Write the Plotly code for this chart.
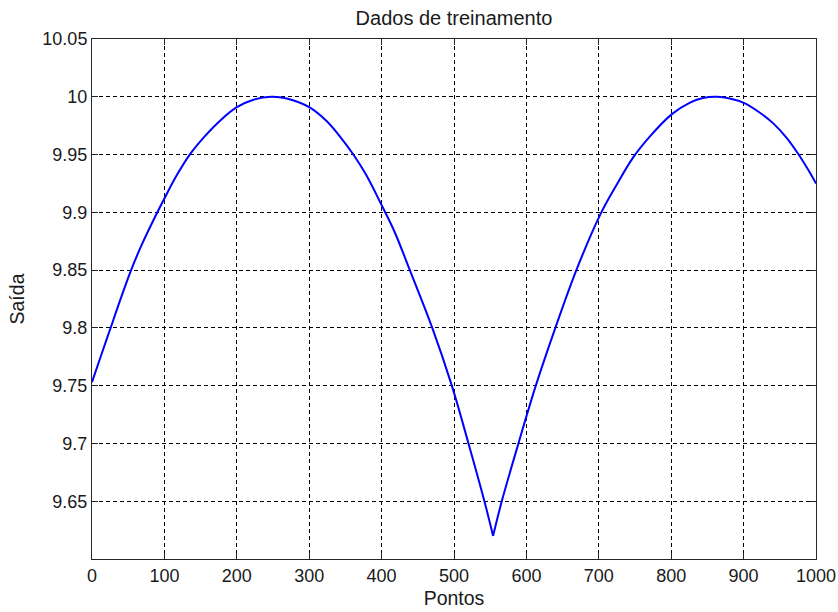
import plotly.graph_objects as go

# Sample positions ("Pontos") and network output ("Saída") along the training curve
pontos = [0, 13, 29, 40, 54, 68, 87, 100, 117, 135, 156, 178, 200, 223, 248,
          269, 300, 324, 342, 361, 379, 401, 418, 439, 470, 497, 520, 542,
          554, 566, 589, 613, 640, 669, 702, 722, 748, 771, 801, 826, 844,
          863, 881, 901, 923, 941, 960, 976, 989, 1000]
saida = [9.753, 9.777, 9.806, 9.826, 9.850, 9.871, 9.896, 9.912, 9.932,
         9.950, 9.966, 9.980, 9.991, 9.9975, 10.000, 9.9985, 9.991, 9.979,
         9.966, 9.950, 9.932, 9.905, 9.883, 9.850, 9.800, 9.750, 9.700,
         9.650, 9.620, 9.650, 9.700, 9.750, 9.800, 9.850, 9.898, 9.921,
         9.948, 9.966, 9.985, 9.995, 9.999, 10.000, 9.9985, 9.9945, 9.986,
         9.977, 9.964, 9.950, 9.937, 9.925]

x_ticks = [0, 100, 200, 300, 400, 500, 600, 700, 800, 900, 1000]
y_ticks = [9.65, 9.7, 9.75, 9.8, 9.85, 9.9, 9.95, 10.0, 10.05]
y_tick_text = ["9.65", "9.7", "9.75", "9.8", "9.85", "9.9", "9.95", "10", "10.05"]

FONT = "Liberation Sans, Arial, sans-serif"
TEXT_COLOR = "#1a1a1a"

# The curve has a sharp minimum; draw each side as its own smooth piece
# so the spline does not round off the cusp.
i_min = saida.index(min(saida))
pieces = [(pontos[:i_min + 1], saida[:i_min + 1]),
          (pontos[i_min:], saida[i_min:])]

fig = go.Figure()
for px, py in pieces:
    fig.add_trace(go.Scatter(
        x=px, y=py, mode="lines",
        line=dict(color="#0000ff", width=2, shape="spline", smoothing=1.0),
        showlegend=False, hoverinfo="x+y",
    ))

axis_common = dict(
    showline=True, linecolor="#262626", linewidth=1, mirror="ticks",
    ticks="inside", ticklen=6, tickcolor="#262626",
    showgrid=True, gridcolor="#000000", gridwidth=1, griddash="4px,3px",
    zeroline=False, automargin=False,
    tickfont=dict(family=FONT, size=18, color=TEXT_COLOR),
)

fig.update_xaxes(
    range=[0, 1000], tickvals=x_ticks,
    title=dict(text="Pontos", font=dict(family=FONT, size=19.5, color=TEXT_COLOR),
               standoff=6),
    **axis_common,
)
fig.update_yaxes(
    range=[9.6, 10.05], tickvals=y_ticks, ticktext=y_tick_text,
    title=dict(text="Saída", font=dict(family=FONT, size=19.5, color=TEXT_COLOR),
               standoff=12),
    **axis_common,
)

fig.update_layout(
    width=838, height=612,
    margin=dict(l=92, r=22, t=39, b=53, pad=0),
    paper_bgcolor="white", plot_bgcolor="white",
    title=dict(text="Dados de treinamento", xref="paper", x=0.5, xanchor="center",
               yref="container", y=0.97, yanchor="middle",
               font=dict(family=FONT, size=20, color=TEXT_COLOR)),
)

fig.write_html("out.html")
